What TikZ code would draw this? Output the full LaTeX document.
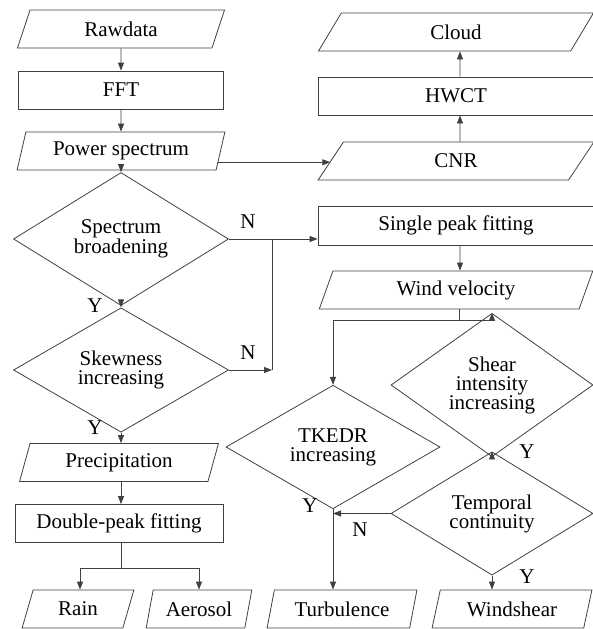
\documentclass[tikz,border=0pt]{standalone}
\usepackage{fontspec}
\setmainfont{Liberation Serif}
\newfontfamily\tnr{Liberation Serif}
\usetikzlibrary{shapes.geometric,arrows.meta,calc}
\begin{document}
\begin{tikzpicture}[x=1pt,y=-1pt,
  every node/.style={font=\tnr\fontsize{21}{19}\selectfont, text=black},
  line/.style={draw=black!75, line width=0.8pt},
  arr/.style={line, -{Triangle[length=8pt,width=6pt]}},
  proc/.style={line, rectangle, minimum height=38pt, inner sep=0pt},
  io/.style={line, trapezium, trapezium left angle=71, trapezium right angle=109, trapezium stretches=true, minimum height=38pt, inner sep=0pt},
  dec/.style={line, diamond, align=center, inner sep=0pt},
  lbl/.style={font=\tnr\fontsize{21}{21}\selectfont}
]
\useasboundingbox (0,0) rectangle (593,629);
% left column
\node[io, minimum width=208pt] (raw) at (121,29) {Rawdata};
\node[proc, minimum width=205pt] (fft) at (121,90) {FFT};
\node[io, minimum width=208pt] (ps) at (121,151) {Power spectrum};
\node[dec, minimum width=215pt, minimum height=108pt] (sb) at (121,239) {Spectrum\\broadening};
\node[dec, minimum width=215pt, minimum height=107pt] (sk) at (121,370) {Skewness\\increasing};
\node[io, minimum width=199pt] (pr) at (119,462.5) {Precipitation};
\node[proc, minimum width=208pt] (dp) at (119,523.5) {Double-peak fitting};
\node[io, minimum width=112pt] (rain) at (78,609) {Rain};
\node[io, minimum width=106pt] (aer) at (199,609) {Aerosol};
% right column
\node[io, minimum width=276pt] (cloud) at (456,32) {Cloud};
\node[proc, minimum width=276pt] (hwct) at (456,96) {HWCT};
\node[io, minimum width=276pt] (cnr) at (456,161) {CNR};
\node[proc, minimum width=276pt, minimum height=39pt] (sp) at (456,225.5) {Single peak fitting};
\node[io, minimum width=274pt] (wv) at (456,290) {Wind velocity};
\node[dec, minimum width=202pt, minimum height=108pt] (sh) at (492,385) {Shear\\intensity\\increasing};
\node[dec, minimum width=214pt, minimum height=110pt] (tk) at (333,447) {TKEDR\\increasing};
\node[dec, minimum width=202pt, minimum height=109pt] (tc) at (492,513.5) {Temporal\\continuity};
\node[io, minimum width=150pt] (turb) at (342,609) {Turbulence};
\node[io, minimum width=161pt] (ws) at (512,609) {Windshear};
% junctions
\coordinate (jn) at (272,239);
\coordinate (jw) at (459,320);
\coordinate (jd) at (121,568);
% connectors left
\draw[arr] (raw.south) -- (fft.north);
\draw[arr] (fft.south) -- (ps.north);
\draw[arr] (ps.south) -- (sb.north);
\draw[arr] (sb.south) -- (sk.north);
\draw[arr] (sk.south) -- (sk.south |- pr.north);
\draw[arr] (pr.south -| sk.south) -- (sk.south |- dp.north);
\draw[line] (dp.south -| jd) -- (jd);
\draw[arr] (jd) -| ([xshift=2pt]rain.north);
\draw[arr] (jd) -| (aer.north);
% spectrum broadening / skewness N
\draw[arr] (sb.east) -- (sb.east -| sp.west);
\draw[line] (jn) -- (jn |- sk.east);
\draw[arr] (sk.east) -- (sk.east -| jn);
% power spectrum to CNR and up
\coordinate (psr) at ($(ps.bottom right corner)!0.21!(ps.top right corner)$);
\draw[arr] (psr) -- (psr -| cnr.west);
\draw[arr] ([xshift=4pt]cnr.north) -- ([xshift=4pt]hwct.south);
\draw[arr] ([xshift=4pt]hwct.north) -- ([xshift=4pt]cloud.south);
% right chain
\draw[arr] ([xshift=4pt]sp.south) -- ([xshift=4pt]wv.north);
\draw[line] (wv.south -| jw) -- (jw);
\draw[arr] (jw) -| (sh.north);
\draw[arr] (jw) -| (tk.north);
\draw[arr] (sh.south) -- (tc.north);
\draw[arr] (tc.south) -- (tc.south |- ws.north);
\draw[arr] (tk.south) -- (tk.south |- turb.north);
\draw[arr] (tc.west) -- (tc.west -| tk.south);
% labels
\node[lbl] (n1) at (248,222) {N};
\node[lbl] (n2) at (248,353) {N};
\node[lbl] (y1) at (95,306) {Y};
\node[lbl] (y2) at (95,428) {Y};
\node[lbl] (y3) at (310,506) {Y};
\node[lbl] (n3) at (360,530) {N};
\node[lbl] (y4) at (527,452) {Y};
\node[lbl] (y5) at (527,577) {Y};
\end{tikzpicture}
\end{document}
